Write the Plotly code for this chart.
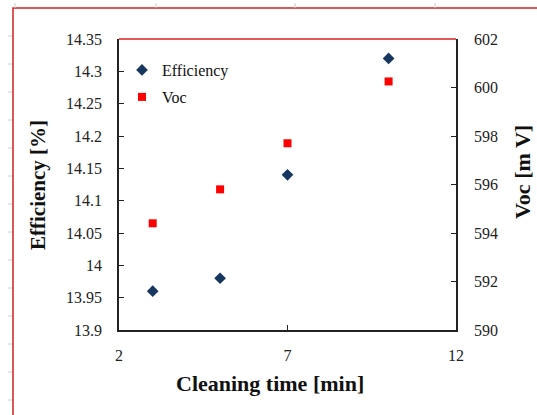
import plotly.graph_objects as go

cleaning_time = [3, 5, 7, 10]
efficiency = [13.96, 13.98, 14.14, 14.32]
voc = [594.4, 595.8, 597.7, 600.25]

eff_ticks = [13.9, 13.95, 14, 14.05, 14.1, 14.15, 14.2, 14.25, 14.3, 14.35]
eff_ticktext = ["13.9", "13.95", "14", "14.05", "14.1", "14.15", "14.2", "14.25", "14.3", "14.35"]

FONT = "Liberation Serif, Times New Roman, serif"
W, H = 537, 415
L, R, T, B = 119, 81, 39, 85
pw, ph = W - L - R, H - T - B

def px(x):
    return (x - L) / pw

def py(y):
    return 1 - (y - T) / ph

fig = go.Figure()
fig.add_trace(go.Scatter(
    x=cleaning_time, y=efficiency, mode="markers", name="Efficiency",
    marker=dict(symbol="diamond", size=9, color="#17375E"),
    legend="legend"))
fig.add_trace(go.Scatter(
    x=cleaning_time, y=voc, mode="markers", name="Voc", yaxis="y2",
    marker=dict(symbol="square", size=8, color="#FF0000"),
    legend="legend2"))

tickfont = dict(family=FONT, size=16, color="#222")
titlefont = dict(family=FONT, size=22, color="#111")

shapes = []
# outer red chart border
shapes.append(dict(type="rect", xref="paper", yref="paper",
                   x0=px(13), x1=px(600), y0=py(8), y1=py(480),
                   line=dict(color="#D42020", width=1.5), layer="below"))
# red top border of plot area
shapes.append(dict(type="line", xref="paper", yref="paper",
                   x0=0, x1=1, y0=1, y1=1,
                   line=dict(color="#D42020", width=1.5)))
# faint sheet grid marks
for gx in [15, 156, 295, 435]:
    shapes.append(dict(type="line", xref="paper", yref="paper",
                       x0=px(gx), x1=px(gx), y0=py(3), y1=py(8),
                       line=dict(color="#cccccc", width=1)))
for gy in range(36, 415, 28):
    shapes.append(dict(type="line", xref="paper", yref="paper",
                       x0=px(8), x1=px(12), y0=py(gy), y1=py(gy),
                       line=dict(color="#cccccc", width=1)))

annotations = [
    dict(text="<b>Cleaning time [min]</b>", xref="paper", yref="paper",
         x=px(270), y=py(383), xanchor="center", yanchor="middle",
         showarrow=False, font=titlefont),
    dict(text="<b>Efficiency [%]</b>", xref="paper", yref="paper",
         x=px(38), y=py(185), xanchor="center", yanchor="middle",
         textangle=-90, showarrow=False, font=dict(family=FONT, size=21, color="#111")),
    dict(text="<b>Voc [m V]</b>", xref="paper", yref="paper",
         x=px(523), y=py(172), xanchor="center", yanchor="middle",
         textangle=-90, showarrow=False, font=titlefont),
]

fig.update_layout(
    width=W, height=H,
    margin=dict(l=L, r=R, t=T, b=B),
    paper_bgcolor="white", plot_bgcolor="white",
    font=dict(family=FONT, size=16, color="#222"),
    showlegend=True,
    xaxis=dict(range=[2, 12], tickvals=[2, 7, 12], ticks="inside", ticklen=5,
               tickcolor="#222", showline=True, linecolor="#222", linewidth=1.5,
               showgrid=False, zeroline=False, tickfont=tickfont,
               ticklabelstandoff=10),
    yaxis=dict(range=[13.9, 14.35], ticks="inside", ticklen=5,
               tickcolor="#222", showline=True, linecolor="#222", linewidth=1.5,
               showgrid=False, zeroline=False, tickfont=tickfont,
               tickvals=eff_ticks, ticktext=eff_ticktext,
               ticklabelstandoff=12),
    yaxis2=dict(range=[590, 602], dtick=2, overlaying="y", side="right",
                ticks="inside", ticklen=5, tickcolor="#222", showline=True,
                linecolor="#222", linewidth=1.5, showgrid=False, zeroline=False,
                tickfont=tickfont, ticklabelstandoff=13),
    legend=dict(x=px(122), y=py(53), xanchor="left", yanchor="top",
                bgcolor="rgba(0,0,0,0)", font=dict(family=FONT, size=16, color="#111"),
                itemwidth=30),
    legend2=dict(x=px(122), y=py(80), xanchor="left", yanchor="top",
                 bgcolor="rgba(0,0,0,0)", font=dict(family=FONT, size=16, color="#111"),
                 itemwidth=30),
    shapes=shapes,
    annotations=annotations,
)

fig.write_html("out.html")
